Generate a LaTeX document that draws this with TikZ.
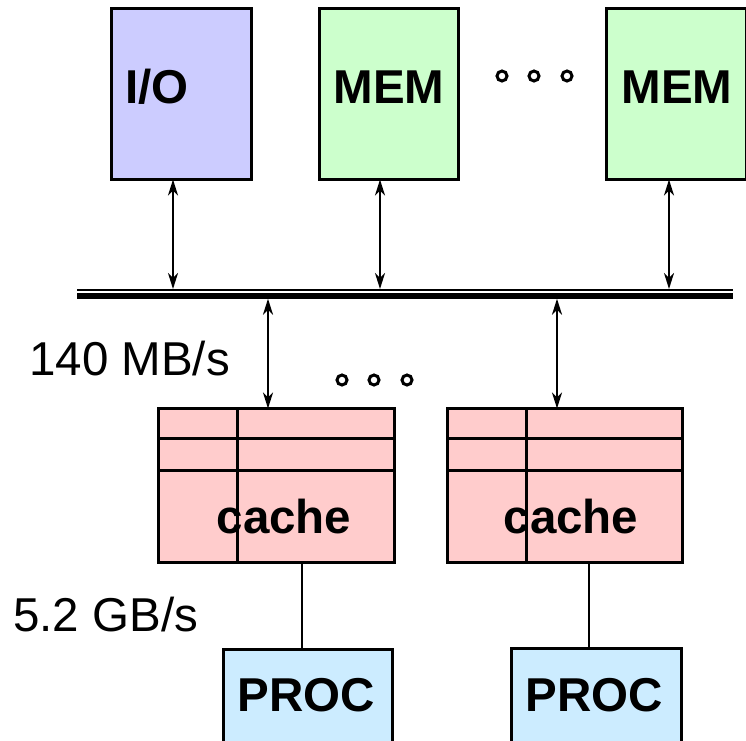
\documentclass[tikz,border=0pt]{standalone}
\usepackage{fontspec}
\setmainfont{Liberation Sans}
\usetikzlibrary{arrows.meta,calc}
\definecolor{iocol}{RGB}{204,204,255}
\definecolor{memcol}{RGB}{204,255,204}
\definecolor{cachecol}{RGB}{255,204,204}
\definecolor{proccol}{RGB}{204,236,255}
\tikzset{
  box/.style={draw=black,line width=3pt,rectangle,inner sep=0pt,outer sep=0pt,anchor=north west},
  lbl/.style={inner sep=0pt,anchor=base,font=\fontsize{47.5}{47.5}\selectfont\bfseries},
  rate/.style={inner sep=0pt,anchor=base west,font=\fontsize{47.5}{47.5}\selectfont},
  tip/.style={Stealth[length=16pt,width=10pt,inset=5pt]},
  arr/.style={line width=2.3pt,{Stealth[length=16pt,width=10pt,inset=5pt]}-{Stealth[length=16pt,width=10pt,inset=5pt]}},
  link/.style={line width=2.5pt},
  dotc/.style={draw=black,line width=3pt,circle,minimum size=10pt,inner sep=0pt}
}
\begin{document}
\begin{tikzpicture}[x=1pt,y=-1pt]
\useasboundingbox (0,0) rectangle (746,740);
\clip (0,0) rectangle (746,740);
% top boxes
\node[box,fill=iocol,minimum width=140pt,minimum height=171pt] (io) at (111.5,8.5) {};
\node[box,fill=memcol,minimum width=139pt,minimum height=171pt] (mem1) at (319.5,8.5) {};
\node[box,fill=memcol,minimum width=140pt,minimum height=171pt] (mem2) at (606.5,8.5) {};
\node[lbl,anchor=base west] (iot) at (125,103) {I/O};
\node[lbl] (mem1t) at (389,103) {MEM};
\node[lbl] (mem2t) at (677,103) {MEM};
\node[dotc] (d1) at (502,76) {};
\node[dotc] (d2) at (534,76) {};
\node[dotc] (d3) at (567,76) {};
% bus
\coordinate (busL) at (77,290);
\coordinate (busR) at (733,290);
\draw[line width=2pt] (busL) -- (busR);
\draw[line width=6pt] ($(busL)+(0,5.7)$) -- ($(busR)+(0,5.7)$);
\coordinate (busB) at (77,298.7);
\coordinate (busT) at (77,289);
% caches
\node[box,fill=cachecol,minimum width=236pt,minimum height=154pt] (c1) at (158.5,408.5) {};
\node[box,fill=cachecol,minimum width=235pt,minimum height=154pt] (c2) at (447.5,408.5) {};
\draw[line width=3pt] (c1.west |- 0,438) -- (c1.east |- 0,438);
\draw[line width=3pt] (c1.west |- 0,470) -- (c1.east |- 0,470);
\draw[line width=3pt] (237,0 |- c1.north) -- (237,0 |- c1.south);
\draw[line width=3pt] (c2.west |- 0,438) -- (c2.east |- 0,438);
\draw[line width=3pt] (c2.west |- 0,470) -- (c2.east |- 0,470);
\draw[line width=3pt] (526,0 |- c2.north) -- (526,0 |- c2.south);
\node[lbl] (c1t) at (284,533) {cache};
\node[lbl] (c2t) at (571,533) {cache};
\node[dotc] (e1) at (342,380) {};
\node[dotc] (e2) at (374,380) {};
\node[dotc] (e3) at (407,380) {};
% procs
\node[box,fill=proccol,minimum width=169pt,minimum height=110pt] (p1) at (223.5,649.5) {};
\node[box,fill=proccol,minimum width=170pt,minimum height=110pt] (p2) at (511.5,648.5) {};
\node[lbl] (p1t) at (306,711) {PROC};
\node[lbl] (p2t) at (594,711) {PROC};
% rates
\node[rate] (r1) at (29,375) {140 MB/s};
\node[rate] (r2) at (13,631) {5.2 GB/s};
% arrows
\draw[arr] (173,0 |- io.south) -- (173,0 |- busT);
\draw[arr] (380,0 |- mem1.south) -- (380,0 |- busT);
\draw[arr] (669,0 |- mem2.south) -- (669,0 |- busT);
\draw[arr] (268,0 |- busB) -- (268,0 |- c1.north);
\draw[arr] (557,0 |- busB) -- (557,0 |- c2.north);
\draw[link] (302,0 |- c1.south) -- (302,0 |- p1.north);
\draw[link] (589,0 |- c2.south) -- (589,0 |- p2.north);
\end{tikzpicture}
\end{document}
